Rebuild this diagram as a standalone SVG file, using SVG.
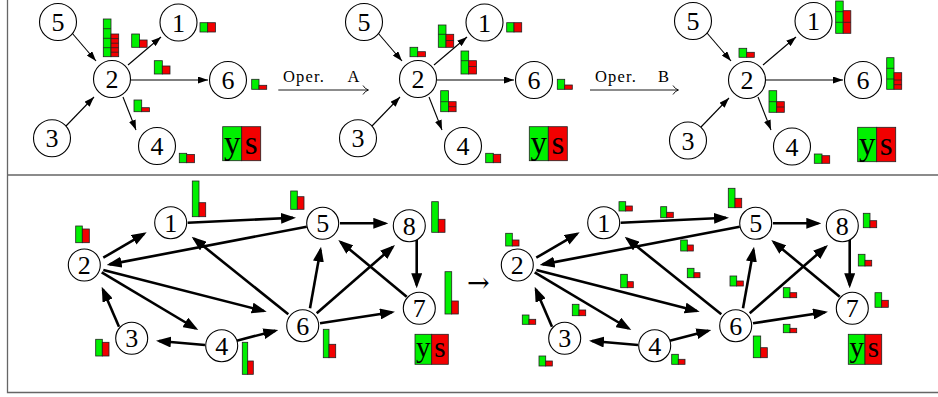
<svg xmlns="http://www.w3.org/2000/svg" width="938" height="397" viewBox="0 0 938 397">
<style>
.nd circle{fill:#fff;stroke:#000;stroke-width:1.1}
.nd text{font-family:"Liberation Serif","Times New Roman",serif;font-size:26px;text-anchor:middle;fill:#000}
.thin{stroke:#000;stroke-width:1.1;fill:none;marker-end:url(#ah)}
.thick{stroke:#000;stroke-width:2.6;fill:none;marker-end:url(#AH)}
.g{fill:#00f000;stroke:#222;stroke-width:0.8}
.r{fill:#f20000;stroke:#222;stroke-width:0.8}
.cl{stroke:#222;stroke-width:0.8}
.ys{font-family:"Liberation Serif","Times New Roman",serif;text-anchor:middle;fill:#000}
.op{font-family:"Liberation Serif","Times New Roman",serif;font-size:16.5px;fill:#000}
.frame{stroke:#666;stroke-width:1.3;fill:none}
</style>
<defs>
<marker id="ah" markerUnits="userSpaceOnUse" markerWidth="10" markerHeight="7" viewBox="0 0 10 7" refX="10" refY="3.5" orient="auto"><path d="M0,0 L10,3.5 L0,7 z" fill="#000"/></marker>
<marker id="AH" markerUnits="userSpaceOnUse" markerWidth="15" markerHeight="11" viewBox="0 0 15 11" refX="12" refY="5.5" orient="auto"><path d="M0,0 L15,5.5 L0,11 z" fill="#000"/></marker>
</defs>

<path class="frame" d="M7.5,0 V392.5 H938 M7.5,175 H938"/>

<!-- top connectors -->
<g id="top-connectors">
<g>
<path class="thin" d="M72,33 L96,61"/>
<path class="thin" d="M66,126 L94,97"/>
<path class="thin" d="M128,65 L161,37"/>
<path class="thin" d="M131,80 L208,80"/>
<path class="thin" d="M123,97 L136,130"/>
</g>
<g transform="translate(306,0)">
<path class="thin" d="M72,33 L96,61"/>
<path class="thin" d="M66,126 L94,97"/>
<path class="thin" d="M128,65 L161,37"/>
<path class="thin" d="M131,80 L208,80"/>
<path class="thin" d="M123,97 L136,130"/>
</g>
<g transform="translate(635,0)">
<path class="thin" d="M72,33 L96,61"/>
<path class="thin" d="M66,127 L94,98"/>
<path class="thin" d="M128,65 L161,37"/>
<path class="thin" d="M131,80 L208,80"/>
<path class="thin" d="M123,97 L136,130"/>
</g>
<path d="M278.3,90 H368 M363,85.5 Q365,89 368.5,90 Q365,91 363,94.5" stroke="#000" stroke-width="0.9" fill="none"/>
<path d="M590,90 H678 M673,85.5 Q675,89 678.5,90 Q675,91 673,94.5" stroke="#000" stroke-width="0.9" fill="none"/>
</g>
<text class="op" x="283" y="82" letter-spacing="1.2">Oper. <tspan x="347.5" letter-spacing="0">A</tspan></text>
<text class="op" x="595" y="82" letter-spacing="1.2">Oper. <tspan x="658" letter-spacing="0">B</tspan></text>

<!-- top-left nodes -->
<g id="tl-n5" class="nd"><circle cx="58" cy="22" r="18.5"/><text x="58" y="31">5</text></g>
<g id="tl-n2" class="nd"><circle cx="112" cy="79" r="18.5"/><text x="112" y="88">2</text></g>
<g id="tl-n1" class="nd"><circle cx="178.5" cy="22.5" r="18.5"/><text x="178.5" y="31.5">1</text></g>
<g id="tl-n6" class="nd"><circle cx="228" cy="80" r="18.5"/><text x="228" y="89">6</text></g>
<g id="tl-n3" class="nd"><circle cx="52" cy="138.3" r="18.5"/><text x="52" y="147.3">3</text></g>
<g id="tl-n4" class="nd"><circle cx="157" cy="146" r="18.5"/><text x="157" y="155">4</text></g>
<g id="tl-bars">
<rect class="g" x="103.3" y="19" width="7.7" height="37.7"/>
<path class="cl" d="M103.3,28.7h7.7M103.3,38.3h7.7M103.3,47.7h7.7"/>
<rect class="r" x="111" y="34" width="7.7" height="22.7"/>
<path class="cl" d="M111,38.6h7.7M111,43.2h7.7M111,47.7h7.7M111,52.2h7.7"/>
<rect class="g" x="131.7" y="34" width="7.7" height="13.3"/><rect class="r" x="139.4" y="40" width="7.7" height="7.3"/>
<rect class="g" x="154.3" y="60.7" width="8" height="13.3"/><rect class="r" x="162.3" y="66" width="7.7" height="8"/>
<rect class="g" x="134" y="100" width="7.7" height="11.7"/><rect class="r" x="141.7" y="107.7" width="7.7" height="4"/>
<rect class="g" x="200" y="22.7" width="7.7" height="9.3"/><rect class="r" x="207.7" y="22.7" width="7.7" height="9.3"/>
<rect class="g" x="251.7" y="79.3" width="7.3" height="10"/><rect class="r" x="259" y="85.3" width="7.7" height="4"/>
<rect class="g" x="179.3" y="153.3" width="7.4" height="9.4"/><rect class="r" x="186.7" y="154.5" width="7.7" height="8.2"/>
</g>
<g id="tl-legend">
<rect class="g" x="222.7" y="126.7" width="19" height="34"/><rect class="r" x="241.7" y="126.7" width="19" height="34"/>
<text class="ys" x="232.2" y="154" font-size="33">y</text><text class="ys" x="251.2" y="154" font-size="33">s</text>
</g>

<!-- top-middle nodes -->
<g id="tm-n5" class="nd"><circle cx="364" cy="22" r="18.5"/><text x="364" y="31">5</text></g>
<g id="tm-n2" class="nd"><circle cx="418" cy="79" r="18.5"/><text x="418" y="88">2</text></g>
<g id="tm-n1" class="nd"><circle cx="484.5" cy="22.5" r="18.5"/><text x="484.5" y="31.5">1</text></g>
<g id="tm-n6" class="nd"><circle cx="534" cy="80" r="18.5"/><text x="534" y="89">6</text></g>
<g id="tm-n3" class="nd"><circle cx="358" cy="138.3" r="18.5"/><text x="358" y="147.3">3</text></g>
<g id="tm-n4" class="nd"><circle cx="463" cy="146" r="18.5"/><text x="463" y="155">4</text></g>
<g id="tm-bars">
<rect class="g" x="410" y="47.3" width="7.7" height="9.4"/><rect class="r" x="417.7" y="51.7" width="7.7" height="5"/>
<rect class="g" x="438.3" y="25" width="7.7" height="22.3"/><path class="cl" d="M438.3,34.3h7.7"/>
<rect class="r" x="446" y="34.3" width="7.7" height="13"/><path class="cl" d="M446,40.5h7.7"/>
<rect class="g" x="461" y="51" width="7.7" height="23"/><path class="cl" d="M461,60.7h7.7"/>
<rect class="r" x="468.7" y="60.7" width="7.7" height="13.3"/><path class="cl" d="M468.7,66.5h7.7"/>
<rect class="g" x="440.7" y="90.7" width="7.7" height="21"/><path class="cl" d="M440.7,101.7h7.7"/>
<rect class="r" x="448.4" y="101.7" width="7.7" height="10"/><path class="cl" d="M448.4,106.7h7.7"/>
<rect class="g" x="506.7" y="22.7" width="7.3" height="9.3"/><rect class="r" x="514" y="22.7" width="7.7" height="9.3"/>
<rect class="g" x="557.3" y="79.3" width="7.4" height="10"/><rect class="r" x="564.7" y="85" width="7.6" height="4.3"/>
<rect class="g" x="485.7" y="153.3" width="7.6" height="9.4"/><rect class="r" x="493.3" y="154.3" width="7.4" height="8.4"/>
</g>
<g id="tm-legend">
<rect class="g" x="529.3" y="126.7" width="19" height="34"/><rect class="r" x="548.3" y="126.7" width="19" height="34"/>
<text class="ys" x="538.8" y="154" font-size="33">y</text><text class="ys" x="557.8" y="154" font-size="33">s</text>
</g>

<!-- top-right nodes -->
<g id="tr-n5" class="nd"><circle cx="693" cy="21" r="18.5"/><text x="693" y="30">5</text></g>
<g id="tr-n2" class="nd"><circle cx="747" cy="80" r="18.5"/><text x="747" y="89">2</text></g>
<g id="tr-n1" class="nd"><circle cx="813.5" cy="21" r="18.5"/><text x="813.5" y="30">1</text></g>
<g id="tr-n6" class="nd"><circle cx="863" cy="80" r="18.5"/><text x="863" y="89">6</text></g>
<g id="tr-n3" class="nd"><circle cx="688" cy="140.5" r="18.5"/><text x="688" y="149.5">3</text></g>
<g id="tr-n4" class="nd"><circle cx="792" cy="146.5" r="18.5"/><text x="792" y="155.5">4</text></g>
<g id="tr-bars">
<rect class="g" x="739" y="48.3" width="7.7" height="9"/><rect class="r" x="746.7" y="52.3" width="7.6" height="5"/>
<rect class="g" x="769" y="90.7" width="7.7" height="21.6"/><path class="cl" d="M769,101.7h7.7"/>
<rect class="r" x="776.7" y="101.7" width="7.6" height="10.6"/><path class="cl" d="M776.7,107h7.6"/>
<rect class="g" x="835.7" y="1" width="7.5" height="32.3"/><path class="cl" d="M835.7,11.7h7.5M835.7,22.3h7.5"/>
<rect class="r" x="843.2" y="10.7" width="7.6" height="22.6"/><path class="cl" d="M843.2,22.3h7.6"/>
<rect class="g" x="886.7" y="57.7" width="7.3" height="31.6"/><path class="cl" d="M886.7,68.3h7.3M886.7,79h7.3"/>
<rect class="r" x="894" y="72.7" width="7.7" height="16.6"/><path class="cl" d="M894,80h7.7M894,84.7h7.7"/>
<rect class="g" x="814.3" y="154" width="7.7" height="9.3"/><rect class="r" x="822" y="155.7" width="7.7" height="7.6"/>
</g>
<g id="tr-legend">
<rect class="g" x="857.7" y="127.3" width="19" height="34.4"/><rect class="r" x="876.7" y="127.3" width="19" height="34.4"/>
<text class="ys" x="867.2" y="154.7" font-size="33">y</text><text class="ys" x="886.2" y="154.7" font-size="33">s</text>
</g>

<!-- bottom connectors -->
<g id="bottom-connectors">
<g id="bl-edges">
<path class="thick" d="M103.3,257.7 L144.1,233.8"/>
<path class="thick" d="M187.7,222.7 L293,217.8"/>
<path class="thick" d="M306.7,226.7 L109.6,264.4"/>
<path class="thick" d="M288.3,314.3 L194,238.6"/>
<path class="thick" d="M103.3,270 L263.8,311"/>
<path class="thick" d="M101.7,272.3 L195.7,328.5"/>
<path class="thick" d="M119,326.7 L102.9,289.5"/>
<path class="thick" d="M205,345 L159,341"/>
<path class="thick" d="M236.7,340.7 L275.4,330.7"/>
<path class="thick" d="M310,308.3 L320.5,249.7"/>
<path class="thick" d="M316.7,313.3 L392.7,247"/>
<path class="thick" d="M320,323.3 L392,312.2"/>
<path class="thick" d="M406.7,296.7 L340.6,241.9"/>
<path class="thick" d="M416.7,240 L416.7,285.3"/>
<path class="thick" d="M340,223.3 L385.3,223.3"/>
</g>
<g id="br-edges" transform="translate(433,0)">
<path class="thick" d="M103.3,257.7 L144.1,233.8"/>
<path class="thick" d="M187.7,222.7 L293,217.8"/>
<path class="thick" d="M306.7,226.7 L109.6,264.4"/>
<path class="thick" d="M288.3,314.3 L194,238.6"/>
<path class="thick" d="M103.3,270 L263.8,311"/>
<path class="thick" d="M101.7,272.3 L195.7,328.5"/>
<path class="thick" d="M119,326.7 L102.9,289.5"/>
<path class="thick" d="M205,345 L159,341"/>
<path class="thick" d="M236.7,340.7 L275.4,330.7"/>
<path class="thick" d="M310,308.3 L320.5,249.7"/>
<path class="thick" d="M316.7,313.3 L392.7,247"/>
<path class="thick" d="M320,323.3 L392,312.2"/>
<path class="thick" d="M406.7,296.7 L340.6,241.9"/>
<path class="thick" d="M416.7,240 L416.7,285.3"/>
<path class="thick" d="M340,223.3 L385.3,223.3"/>
</g>
</g>

<!-- bottom-left nodes -->
<g id="bl-n1" class="nd"><circle cx="170.7" cy="222.7" r="16"/><text x="170.7" y="231.7">1</text></g>
<g id="bl-n2" class="nd"><circle cx="84.3" cy="265" r="16"/><text x="84.3" y="274">2</text></g>
<g id="bl-n3" class="nd"><circle cx="131.7" cy="338.3" r="16"/><text x="131.7" y="347.3">3</text></g>
<g id="bl-n4" class="nd"><circle cx="221.7" cy="345.7" r="16"/><text x="221.7" y="354.7">4</text></g>
<g id="bl-n5" class="nd"><circle cx="322.7" cy="223.3" r="16"/><text x="322.7" y="232.3">5</text></g>
<g id="bl-n8" class="nd"><circle cx="409.3" cy="225.7" r="16"/><text x="409.3" y="234.7">8</text></g>
<g id="bl-n7" class="nd"><circle cx="419.3" cy="308.3" r="16"/><text x="419.3" y="317.3">7</text></g>
<g id="bl-n6" class="nd"><circle cx="302.7" cy="325.7" r="16"/><text x="302.7" y="334.7">6</text></g>
<g id="bl-bars">
<rect class="g" x="192.3" y="181" width="6.7" height="35.7"/><rect class="r" x="199" y="202.7" width="6.7" height="14"/>
<rect class="g" x="75.7" y="226" width="6.6" height="16.7"/><rect class="r" x="82.3" y="229" width="7" height="13.7"/>
<rect class="g" x="95.7" y="339.3" width="6.6" height="16.7"/><rect class="r" x="102.3" y="342.3" width="6.7" height="13.7"/>
<rect class="g" x="242.3" y="342.3" width="5.4" height="32"/><rect class="r" x="247.7" y="361" width="5.6" height="13.3"/>
<rect class="g" x="290.7" y="191" width="6.6" height="18.3"/><rect class="r" x="297.3" y="196.7" width="6.7" height="12.6"/>
<rect class="g" x="431.7" y="201.7" width="6.6" height="30.6"/><rect class="r" x="438.3" y="219.3" width="6.7" height="13"/>
<rect class="g" x="445" y="271.7" width="6.7" height="42.3"/><rect class="r" x="451.7" y="301" width="6.6" height="13"/>
<rect class="g" x="323.3" y="329.3" width="5.7" height="28.4"/><rect class="r" x="329" y="344.3" width="6.7" height="13.4"/>
</g>
<g id="bl-legend">
<rect class="g" x="415" y="334.3" width="16.7" height="30"/><rect class="r" x="431.7" y="334.3" width="16.6" height="30"/>
<text class="ys" x="423.3" y="357" font-size="29">y</text><text class="ys" x="440" y="357" font-size="29">s</text>
</g>

<text x="467" y="291.5" font-family="'DejaVu Serif',serif" font-size="27" fill="#000">→</text>

<!-- bottom-right nodes -->
<g id="br-n1" class="nd"><circle cx="603.7" cy="222.7" r="16"/><text x="603.7" y="231.7">1</text></g>
<g id="br-n2" class="nd"><circle cx="517.3" cy="265" r="16"/><text x="517.3" y="274">2</text></g>
<g id="br-n3" class="nd"><circle cx="564.7" cy="338.3" r="16"/><text x="564.7" y="347.3">3</text></g>
<g id="br-n4" class="nd"><circle cx="654.7" cy="345.7" r="16"/><text x="654.7" y="354.7">4</text></g>
<g id="br-n5" class="nd"><circle cx="755.7" cy="223.3" r="16"/><text x="755.7" y="232.3">5</text></g>
<g id="br-n8" class="nd"><circle cx="842.3" cy="225.7" r="16"/><text x="842.3" y="234.7">8</text></g>
<g id="br-n7" class="nd"><circle cx="852.3" cy="308.3" r="16"/><text x="852.3" y="317.3">7</text></g>
<g id="br-n6" class="nd"><circle cx="735.7" cy="325.7" r="16"/><text x="735.7" y="334.7">6</text></g>
<g id="br-bars">
<rect class="g" x="619" y="201.7" width="6.7" height="9.3"/><rect class="r" x="625.7" y="206" width="6.6" height="5"/>
<rect class="g" x="660.7" y="206.7" width="6" height="11"/><rect class="r" x="666.7" y="212.3" width="6.6" height="5.4"/>
<rect class="g" x="680.7" y="240" width="6.6" height="11"/><rect class="r" x="687.3" y="245" width="6" height="6"/>
<rect class="g" x="687.3" y="268.3" width="6.7" height="9.4"/><rect class="r" x="694" y="272.7" width="6" height="5"/>
<rect class="g" x="505.7" y="233.3" width="6.6" height="12.7"/><rect class="r" x="512.3" y="240" width="6.7" height="6"/>
<rect class="g" x="620.7" y="274.3" width="6.6" height="13.4"/><rect class="r" x="627.3" y="281.7" width="6" height="6"/>
<rect class="g" x="572.3" y="304.3" width="6.7" height="11.4"/><rect class="r" x="579" y="310" width="6.7" height="5.7"/>
<rect class="g" x="522.3" y="315" width="6.7" height="9.3"/><rect class="r" x="529" y="319.3" width="6.7" height="5"/>
<rect class="g" x="539" y="356" width="6.7" height="10"/><rect class="r" x="545.7" y="361" width="6.6" height="5"/>
<rect class="g" x="671.7" y="354.3" width="6.6" height="10"/><rect class="r" x="678.3" y="359.3" width="6.7" height="5"/>
<rect class="g" x="728.3" y="188.3" width="6.7" height="19.4"/><rect class="r" x="735" y="198.3" width="6.7" height="9.4"/>
<rect class="g" x="863.3" y="213.3" width="6.7" height="14.4"/><rect class="r" x="870" y="220.7" width="6.7" height="7"/>
<rect class="g" x="858.3" y="254.3" width="6.7" height="11.7"/><rect class="r" x="865" y="260.3" width="6.7" height="5.7"/>
<rect class="g" x="875" y="292.7" width="6.7" height="14.6"/><rect class="r" x="881.7" y="300.3" width="6.6" height="7"/>
<rect class="g" x="730" y="276" width="6.7" height="10"/><rect class="r" x="736.7" y="281" width="6.6" height="5"/>
<rect class="g" x="783.3" y="287.7" width="6.7" height="10"/><rect class="r" x="790" y="292.7" width="6.7" height="5"/>
<rect class="g" x="783.3" y="324.3" width="6.7" height="8.4"/><rect class="r" x="790" y="328.3" width="6.7" height="4.4"/>
<rect class="g" x="753.3" y="336" width="7.4" height="21.7"/><rect class="r" x="760.7" y="347.7" width="6.6" height="10"/>
</g>
<g id="br-legend">
<rect class="g" x="848.3" y="334.3" width="16.7" height="30"/><rect class="r" x="865" y="334.3" width="16.7" height="30"/>
<text class="ys" x="856.7" y="357" font-size="29">y</text><text class="ys" x="873.3" y="357" font-size="29">s</text>
</g>
</svg>
